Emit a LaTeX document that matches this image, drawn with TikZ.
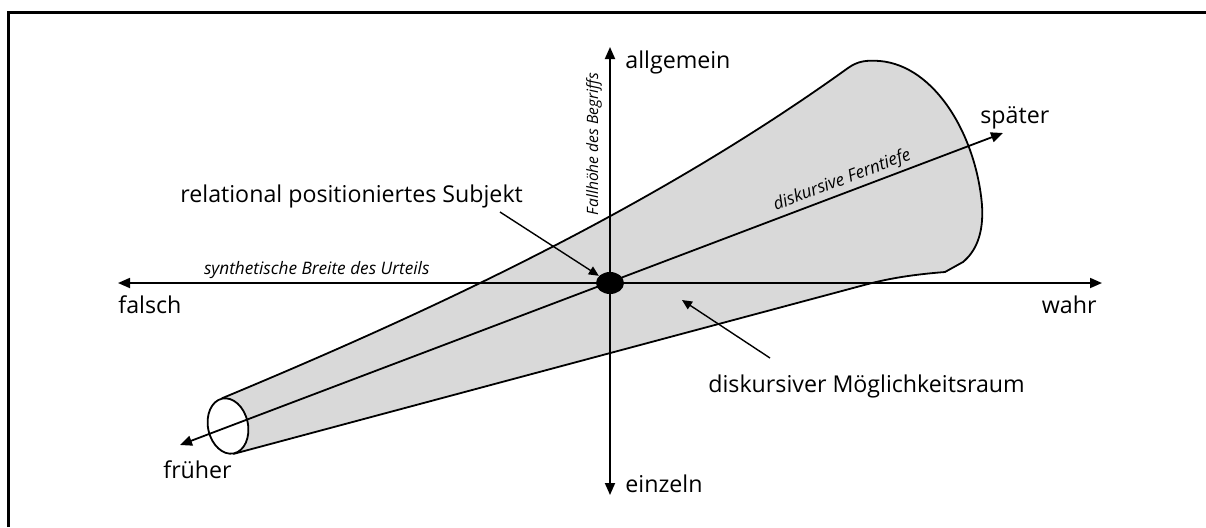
\documentclass[tikz,border=0pt]{standalone}
\usepackage{fontspec}
\setmainfont{Open Sans}
\usetikzlibrary{arrows.meta, positioning, shapes.geometric}
\definecolor{conegray}{RGB}{217,217,217}

\begin{document}
\begin{tikzpicture}[x=0.5pt, y=-0.5pt, >={Triangle[length=6pt,width=5pt]},
  font=\fontsize{11.6}{13}\selectfont,
  axis/.style={<->, line width=0.9pt},
  hint/.style={-{Triangle[length=5pt,width=4.5pt]}, line width=0.7pt},
  axlabel/.style={font=\fontsize{8.6}{9}\selectfont\itshape, inner sep=1.5pt},
  lbl/.style={inner sep=0pt},
  mouthshape/.style={ellipse, rotate=12, minimum width=20pt, minimum height=28pt, inner sep=0pt}]

  \useasboundingbox (0,0) rectangle (1206,527);
  % frame (only left and top edges are visible)
  \draw[line width=1.5pt] (8,527) -- (8,12) -- (1206,12);

  \coordinate (O)         at (610,283);
  \coordinate (falschtip) at (118,283);
  \coordinate (wahrtip)   at (1102,283);
  \coordinate (alltip)    at (610,47);
  \coordinate (eintip)    at (610,495);
  \coordinate (fruehtip)  at (180,445);
  \coordinate (spaettip)  at (1003,133);

  % cone of the discursive space
  \node[mouthshape] (mouth) at (228,426) {};
  \filldraw[fill=conegray, line width=0.9pt, line join=round]
    (mouth.north) .. controls (417,317) and (648,212) .. (848,68)
    .. controls (858,61) and (866,60) .. (880,61)
    .. controls (935,66) and (976,135) .. (982,205)
    .. controls (984,235) and (975,252) .. (963,262)
    -- (945,272) .. controls (920,274) and (895,277) .. (868,284)
    -- (mouth.south) -- cycle;
  \node[mouthshape, draw, fill=white, line width=0.9pt] at (mouth.center) {};

  % axes
  \draw[axis] (falschtip) -- node[axlabel, above, pos=0.202] {synthetische Breite des Urteils} (wahrtip);
  \draw[axis] (eintip) -- (alltip);
  \node[axlabel, font=\fontsize{7.8}{9}\selectfont\itshape, rotate=90] (fallhoehe) at (594,144) {Fallhöhe des Begriffs};
  \draw[axis] (fruehtip) -- node[axlabel, above, sloped, pos=0.81] {diskursive Ferntiefe} (spaettip);

  \node[ellipse, fill, minimum width=14pt, minimum height=11pt, inner sep=0pt] (subj) at (O) {};

  % axis labels
  \node[lbl, anchor=base west] (falsch)   at (118,313) {falsch};
  \node[lbl, anchor=base east] (wahr)     at (1097,313) {wahr};
  \node[lbl, anchor=base west] (allg)     at (625,68)  {allgemein};
  \node[lbl, anchor=base west] (einz)     at (625,492) {einzeln};
  \node[lbl, anchor=base west] (spaeter)  at (980,123) {später};
  \node[lbl, anchor=base west] (frueher)  at (163,478) {früher};

  % explanations
  \node[lbl, anchor=base west] (subjtext) at (180,202) {relational positioniertes Subjekt};
  \node[lbl, anchor=base west] (raum)     at (708,392) {diskursiver Möglichkeitsraum};
  \coordinate (subjtail) at (500,212);
  \coordinate (raumtail) at (770,358);
  \coordinate (raumtip)  at (682,300);
  \draw[hint] (subjtail) -- (subj);
  \draw[hint] (raumtail) -- (raumtip);
\end{tikzpicture}
\end{document}
